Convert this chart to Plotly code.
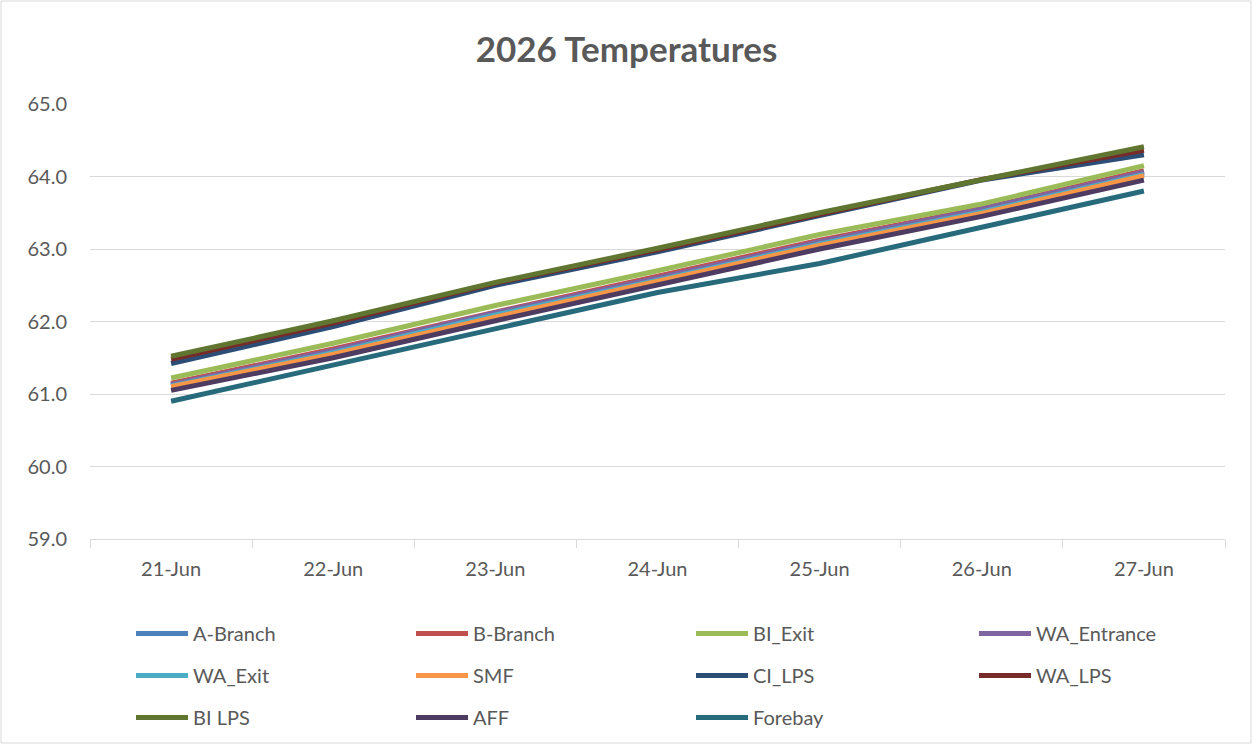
import plotly.graph_objects as go

dates = ["21-Jun", "22-Jun", "23-Jun", "24-Jun", "25-Jun", "26-Jun", "27-Jun"]

a_branch = [61.12, 61.58, 62.10, 62.58, 63.08, 63.52, 64.05]
b_branch = [61.15, 61.62, 62.13, 62.62, 63.12, 63.56, 64.08]
bi_exit = [61.22, 61.70, 62.22, 62.70, 63.20, 63.62, 64.15]
wa_entrance = [61.13, 61.60, 62.12, 62.60, 63.10, 63.55, 64.06]
wa_exit = [61.11, 61.57, 62.09, 62.57, 63.07, 63.51, 64.03]
smf = [61.10, 61.55, 62.06, 62.55, 63.05, 63.49, 64.01]
ci_lps = [61.42, 61.93, 62.50, 62.96, 63.46, 63.95, 64.30]
wa_lps = [61.48, 61.98, 62.53, 62.99, 63.48, 63.96, 64.36]
bi_lps = [61.52, 62.01, 62.54, 63.01, 63.50, 63.96, 64.41]
aff = [61.05, 61.50, 62.01, 62.51, 63.00, 63.45, 63.95]
forebay = [60.90, 61.40, 61.90, 62.40, 62.80, 63.30, 63.80]

series = [
    ("A-Branch", a_branch, "#4F81BD"),
    ("B-Branch", b_branch, "#C0504D"),
    ("BI_Exit", bi_exit, "#9BBB59"),
    ("WA_Entrance", wa_entrance, "#8064A2"),
    ("WA_Exit", wa_exit, "#4BACC6"),
    ("SMF", smf, "#F79646"),
    ("CI_LPS", ci_lps, "#2C4D75"),
    ("WA_LPS", wa_lps, "#772C2A"),
    ("BI LPS", bi_lps, "#5F7530"),
    ("AFF", aff, "#4D3B62"),
    ("Forebay", forebay, "#276A7C"),
]

W, H = 1253, 745
L, R, T, B = 90, 28, 104, 206
pw, ph = W - L - R, H - T - B

legend_names = ["legend", "legend2", "legend3", "legend4"]
fig = go.Figure()
for i, (name, vals, color) in enumerate(series):
    fig.add_trace(go.Scatter(x=dates, y=vals, name=name, mode="lines",
                             legend=legend_names[i % 4], legendgroup=name,
                             line=dict(color=color, width=5)))

col_x = [135, 415, 695, 978]
leg_top = 614
legends = {}
for k, nm in enumerate(legend_names):
    legends[nm] = dict(orientation="v", x=(col_x[k] - 4 - L) / pw,
                       xanchor="left", y=(539 - leg_top) / ph, yanchor="top",
                       itemwidth=52, tracegroupgap=13,
                       font=dict(size=20, color="#595959",
                                 family="Lato, sans-serif"),
                       bgcolor="rgba(0,0,0,0)")

fig.update_layout(
    width=W, height=H,
    margin=dict(l=L, r=R, t=T, b=B, autoexpand=False),
    paper_bgcolor="white", plot_bgcolor="white",
    font=dict(family="Lato, Open Sans, sans-serif", color="#595959", size=20),
    title=dict(text="<b>2026 Temperatures</b>", x=0.5, xanchor="center",
               y=1 - 50 / H, yanchor="middle",
               font=dict(size=35, color="#595959")),
    xaxis=dict(type="category", range=[-0.5, 6.5], showgrid=False,
               showline=True, linecolor="#D9D9D9", linewidth=1,
               ticks="outside", tickson="boundaries", ticklen=8,
               tickcolor="#D9D9D9", automargin=False,
               tickfont=dict(size=20, color="#595959"), ticklabelstandoff=12),
    yaxis=dict(range=[59, 65], dtick=1, tickformat=".1f", showgrid=True,
               gridcolor="#D9D9D9", gridwidth=1, zeroline=False,
               showline=False, automargin=False,
               tickfont=dict(size=20, color="#595959"),
               ticklabelstandoff=22),
    showlegend=True,
    **legends,
)

fig.add_shape(type="rect", xref="paper", yref="paper",
              x0=(1 - L) / pw, x1=(W - 2 - L) / pw,
              y0=(539 - (H - 2)) / ph, y1=(539 - 1) / ph,
              line=dict(color="#D9D9D9", width=1), fillcolor="rgba(0,0,0,0)",
              layer="below")

fig.write_html("out.html", config={"displayModeBar": False},
               post_script="document.body.style.margin='0';")
